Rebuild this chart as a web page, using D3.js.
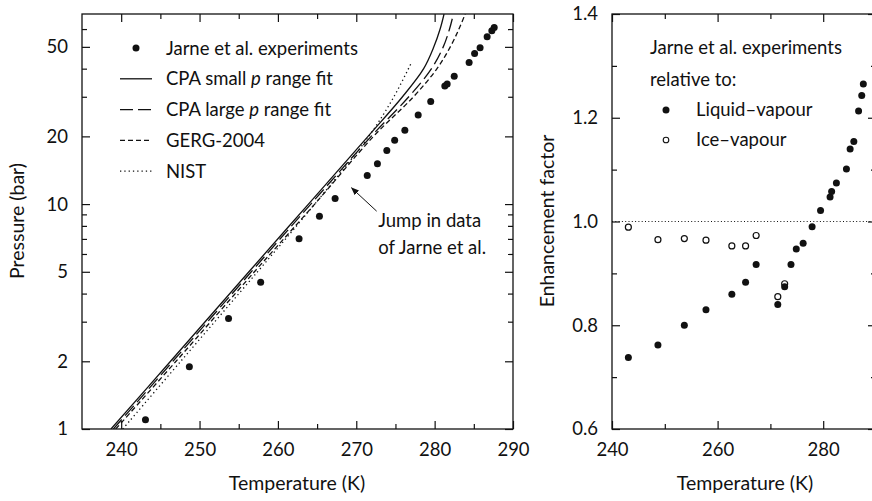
<!DOCTYPE html>
<html>
<head>
<meta charset="utf-8">
<script src="https://cdn.jsdelivr.net/npm/d3@7"></script>
<style>
  body { margin: 0; background: #fff; }
  text { font-family: Lato, "Open Sans", sans-serif; fill: #111; }
</style>
</head>
<body>
<svg id="chart" width="872" height="501"></svg>
<script>
// Jarne et al. experimental points: temperature (K) and pressure (bar)
const expT = [243.1, 248.7, 253.7, 257.8, 262.7, 265.3, 267.3, 271.4, 272.7, 273.9, 274.9, 276.2,
              277.9, 279.5, 281.3, 281.6, 282.5, 284.4, 285.1, 285.8, 286.7, 287.3, 287.6];
const expP = [1.10, 1.89, 3.10, 4.49, 7.01, 8.82, 10.6, 13.4, 15.1, 17.3, 19.2, 21.3,
              24.9, 28.6, 33.5, 34.2, 37.0, 42.6, 46.7, 49.5, 55.4, 58.9, 61.0];

// Enhancement factor relative to liquid-vapour (all points) and ice-vapour (below 273 K)
const liqEnh = [0.738, 0.762, 0.800, 0.830, 0.860, 0.883, 0.917, 0.840, 0.874, 0.917, 0.947, 0.958,
                0.990, 1.021, 1.047, 1.058, 1.074, 1.101, 1.140, 1.154, 1.213, 1.243, 1.265];
const iceT   = [243.1, 248.7, 253.7, 257.8, 262.7, 265.3, 267.3, 271.4, 272.7];
const iceEnh = [0.989, 0.965, 0.967, 0.964, 0.953, 0.953, 0.973, 0.855, 0.880];

// Model curves: pressure levels (bar) and the corresponding temperatures (K)
const cpaSmallP = [1, 2, 5, 10, 20, 30, 40, 50, 60, 70];
const cpaSmallT = [238.7, 246.3, 256.3, 263.9, 271.5, 275.9, 278.6, 279.9, 280.7, 281.2];
const cpaLargeP = [1, 2, 5, 10, 20, 30, 40, 50, 60, 70];
const cpaLargeT = [239.0, 246.6, 256.6, 264.2, 271.9, 276.7, 279.6, 281.1, 281.9, 282.4];
const gergP = [1, 2, 5, 10, 20, 30, 40, 50, 60, 70];
const gergT = [239.3, 247.0, 257.0, 264.7, 272.2, 277.3, 280.3, 282.0, 283.1, 283.9];
const nistP = [1, 2, 5, 10, 20, 30, 43];
const nistT = [240.2, 247.6, 257.4, 264.7, 271.6, 274.8, 277.1];

// Tick values
const tempTicksL = [240, 250, 260, 270, 280, 290];
const tempMinorL = [245, 255, 265, 275, 285];
const pTicks = [1, 2, 5, 10, 20, 50];
const pMinor = [3, 4, 6, 7, 8, 9, 30, 40, 60];
const tempTicksR = [240, 260, 280];
const tempMinorR = [250, 270, 290];
const enhTicks = [0.6, 0.8, 1.0, 1.2, 1.4];
const enhMinor = [0.7, 0.9, 1.1, 1.3];

const svg = d3.select("#chart");
svg.append("rect").attr("width", 872).attr("height", 501).attr("fill", "#fff");

const FS = 18.5;      // tick labels, legends, annotation
const FS_TITLE = 19.5; // axis titles
const MAJ = 8, MIN = 5;

function styleAxis(g) {
  g.select(".domain").remove();
  g.selectAll(".tick line").attr("stroke", "#111").attr("stroke-width", 1.2);
  g.selectAll(".tick text").style("font-size", FS + "px").attr("fill", "#111")
    .style("font-family", "Lato, 'Open Sans', sans-serif");
}

function frame(x, y, xt, xm, yt, ym, yfmt) {
  const [x0, x1] = x.range(), [y0, y1] = y.range();
  const g = svg.append("g");
  const add = (axis, tr) => g.append("g").attr("transform", tr).call(axis).call(styleAxis);
  add(d3.axisBottom(x).tickValues(xt).tickSize(-MAJ).tickPadding(14).tickFormat(d3.format("d")), `translate(0,${y0})`);
  add(d3.axisBottom(x).tickValues(xm).tickSize(-MIN).tickFormat(""), `translate(0,${y0})`);
  add(d3.axisTop(x).tickValues(xt).tickSize(-MAJ).tickFormat(""), `translate(0,${y1})`);
  add(d3.axisTop(x).tickValues(xm).tickSize(-MIN).tickFormat(""), `translate(0,${y1})`);
  add(d3.axisLeft(y).tickValues(yt).tickSize(-MAJ).tickPadding(14).tickFormat(yfmt), `translate(${x0},0)`);
  add(d3.axisLeft(y).tickValues(ym).tickSize(-MIN).tickFormat(""), `translate(${x0},0)`);
  add(d3.axisRight(y).tickValues(yt).tickSize(-MAJ).tickFormat(""), `translate(${x1},0)`);
  add(d3.axisRight(y).tickValues(ym).tickSize(-MIN).tickFormat(""), `translate(${x1},0)`);
  g.append("rect").attr("x", x0).attr("y", y1).attr("width", x1 - x0).attr("height", y0 - y1)
    .attr("fill", "none").attr("stroke", "#111").attr("stroke-width", 1.3);
  return g;
}

// ---------- Left panel: pressure vs temperature ----------
const xL = d3.scaleLinear().domain([235, 290]).range([82, 513]);
const yL = d3.scaleLog().domain([1, 70]).range([429, 14]);

const clipL = svg.append("clipPath").attr("id", "clipL");
clipL.append("rect").attr("x", 82).attr("y", 14).attr("width", 431).attr("height", 415);

const curves = [
  { T: cpaSmallT, P: cpaSmallP, dash: null },
  { T: cpaLargeT, P: cpaLargeP, dash: "13,5" },
  { T: gergT, P: gergP, dash: "5,3" },
  { T: nistT, P: nistP, dash: "1.3,3" }
];
const lineL = d3.line().x(d => xL(d[0])).y(d => yL(d[1])).curve(d3.curveCatmullRom.alpha(0.5));
const gCurves = svg.append("g").attr("clip-path", "url(#clipL)");
curves.forEach(c => {
  gCurves.append("path")
    .attr("d", lineL(c.T.map((t, i) => [t, c.P[i]])))
    .attr("fill", "none").attr("stroke", "#111").attr("stroke-width", 1.3)
    .attr("stroke-dasharray", c.dash);
});

svg.append("g").selectAll("circle").data(expT.map((t, i) => [t, expP[i]])).join("circle")
  .attr("cx", d => xL(d[0])).attr("cy", d => yL(d[1])).attr("r", 3.5).attr("fill", "#111");

frame(xL, yL, tempTicksL, tempMinorL, pTicks, pMinor, d3.format("d"));

// legend
const legL = svg.append("g");
const legRows = [
  { label: "Jarne et al. experiments", type: "dot" },
  { label: ["CPA small ", "p", " range fit"], type: "line", dash: null },
  { label: ["CPA large ", "p", " range fit"], type: "line", dash: "13,5" },
  { label: "GERG-2004", type: "line", dash: "5,3" },
  { label: "NIST", type: "line", dash: "1.3,3" }
];
legRows.forEach((r, i) => {
  const cy = 48 + i * 30.8;
  if (r.type === "dot") {
    legL.append("circle").attr("cx", 136).attr("cy", cy).attr("r", 3.5).attr("fill", "#111");
  } else {
    legL.append("line").attr("x1", 120).attr("x2", 152).attr("y1", cy).attr("y2", cy)
      .attr("stroke", "#111").attr("stroke-width", 1.3).attr("stroke-dasharray", r.dash);
  }
  const t = legL.append("text").attr("x", 166).attr("y", cy + 6.5).style("font-size", FS + "px");
  if (Array.isArray(r.label)) {
    t.append("tspan").text(r.label[0]);
    t.append("tspan").text(r.label[1]).style("font-style", "italic");
    t.append("tspan").text(r.label[2]);
  } else t.text(r.label);
});

// annotation for the jump in the data
const defs = svg.append("defs");
defs.append("marker").attr("id", "arrow").attr("viewBox", "0 0 10 10").attr("refX", 9).attr("refY", 5)
  .attr("markerWidth", 8).attr("markerHeight", 8).attr("orient", "auto-start-reverse")
  .attr("markerUnits", "userSpaceOnUse")
  .append("path").attr("d", "M0,1 L10,5 L0,9 Z").attr("fill", "#111");
const arrowFrom = [272.6, 9.3], arrowTo = [269.4, 11.8];
svg.append("line")
  .attr("x1", xL(arrowFrom[0])).attr("y1", yL(arrowFrom[1]))
  .attr("x2", xL(arrowTo[0])).attr("y2", yL(arrowTo[1]))
  .attr("stroke", "#111").attr("stroke-width", 1).attr("marker-end", "url(#arrow)");
const annT = 272.8, annP = 7.9;
const ann = svg.append("text").attr("x", xL(annT)).attr("y", yL(annP)).style("font-size", FS + "px");
ann.append("tspan").attr("x", xL(annT)).text("Jump in data");
ann.append("tspan").attr("x", xL(annT)).attr("dy", 27).text("of Jarne et al.");

// axis titles
svg.append("text").attr("x", 297).attr("y", 490).attr("text-anchor", "middle")
  .style("font-size", FS_TITLE + "px").text("Temperature (K)");
svg.append("text").attr("transform", "translate(24,221) rotate(-90)").attr("text-anchor", "middle")
  .style("font-size", FS_TITLE + "px").text("Pressure (bar)");

// ---------- Right panel: enhancement factor ----------
const xR = d3.scaleLinear().domain([240, 290]).range([612, 876]);
const yR = d3.scaleLinear().domain([0.6, 1.4]).range([429, 14]);

svg.append("line").attr("x1", xR(240)).attr("x2", xR(290)).attr("y1", yR(1)).attr("y2", yR(1))
  .attr("stroke", "#111").attr("stroke-width", 1).attr("stroke-dasharray", "1,2.3");

svg.append("g").selectAll("circle").data(iceT.map((t, i) => [t, iceEnh[i]])).join("circle")
  .attr("cx", d => xR(d[0])).attr("cy", d => yR(d[1])).attr("r", 3)
  .attr("fill", "#fff").attr("stroke", "#111").attr("stroke-width", 1.2);
svg.append("g").selectAll("circle").data(expT.map((t, i) => [t, liqEnh[i]])).join("circle")
  .attr("cx", d => xR(d[0])).attr("cy", d => yR(d[1])).attr("r", 3.5).attr("fill", "#111");

frame(xR, yR, tempTicksR, tempMinorR, enhTicks, enhMinor, d3.format(".1f"));

const legR = svg.append("g").style("font-size", FS + "px");
legR.append("text").attr("x", 650).attr("y", 54).text("Jarne et al. experiments");
legR.append("text").attr("x", 650).attr("y", 86).text("relative to:");
legR.append("circle").attr("cx", 666).attr("cy", 110).attr("r", 3.5).attr("fill", "#111");
legR.append("text").attr("x", 696).attr("y", 116).text("Liquid\u2013vapour");
legR.append("circle").attr("cx", 666).attr("cy", 140).attr("r", 2.8)
  .attr("fill", "#fff").attr("stroke", "#111").attr("stroke-width", 1.1);
legR.append("text").attr("x", 696).attr("y", 146).text("Ice\u2013vapour");

svg.append("text").attr("x", 745).attr("y", 490).attr("text-anchor", "middle")
  .style("font-size", FS_TITLE + "px").text("Temperature (K)");
svg.append("text").attr("transform", "translate(554,221) rotate(-90)").attr("text-anchor", "middle")
  .style("font-size", FS_TITLE + "px").text("Enhancement factor");
</script>
</body>
</html>
